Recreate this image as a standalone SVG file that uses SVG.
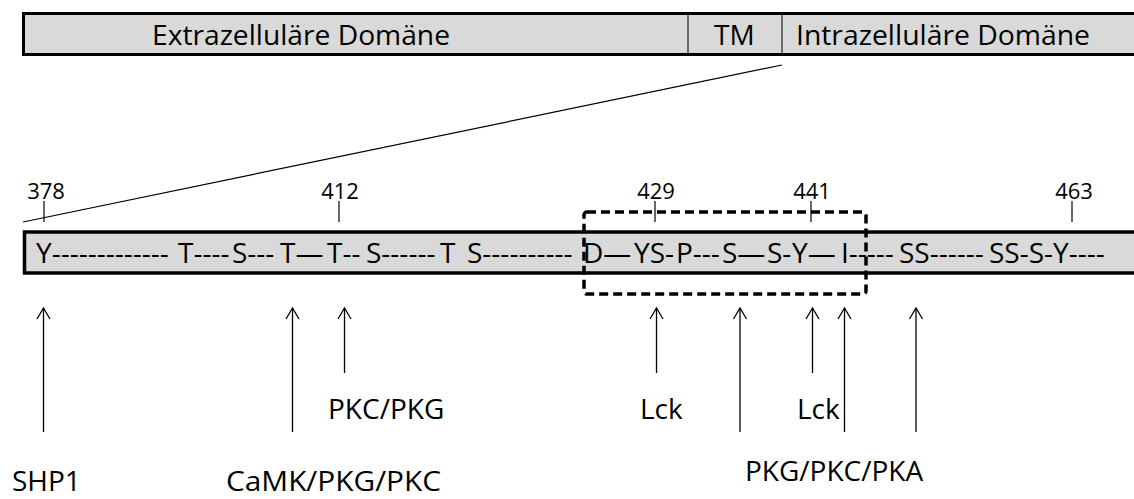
<svg xmlns="http://www.w3.org/2000/svg" width="1134" height="499" viewBox="0 0 1134 499">
<defs>
<style>
.bar{fill:#d9d9d9;stroke:#000;}
.t{font-family:"Open Sans","Liberation Sans",sans-serif;font-size:28px;fill:#000;}
.n{font-family:"Open Sans","Liberation Sans",sans-serif;font-size:22px;fill:#000;text-anchor:middle;}
.thin{stroke:#000;stroke-width:1.2;fill:none;}
.arrow{stroke:#000;stroke-width:1.3;fill:none;marker-end:url(#head);}
</style>
<marker id="head" viewBox="-13 -9 15 18" refX="0" refY="0" markerWidth="15" markerHeight="18" markerUnits="userSpaceOnUse" orient="auto">
<path d="M -11 -6.5 L 0 0 L -11 6.5" fill="none" stroke="#000" stroke-width="1.3"/>
</marker>
</defs>
<rect width="1134" height="499" fill="#fff"/>
<g id="domain-bar">
<rect class="bar" x="23.5" y="13.5" width="1130" height="41" stroke-width="3"/>
<line x1="688" y1="15" x2="688" y2="53" stroke="#222" stroke-width="1.2"/>
<line x1="782" y1="15" x2="782" y2="53" stroke="#222" stroke-width="1.2"/>
<text class="t" x="152" y="45" textLength="298" lengthAdjust="spacingAndGlyphs">Extrazelluläre Domäne</text>
<text class="t" x="714" y="45">TM</text>
<text class="t" x="796" y="45" textLength="294" lengthAdjust="spacingAndGlyphs">Intrazelluläre Domäne</text>
</g>
<g id="zoom-line">
<line class="thin" x1="23" y1="222" x2="782" y2="65"/>
</g>
<g id="positions">
<text class="n" x="46" y="199">378</text>
<line class="thin" x1="44" y1="201" x2="44" y2="222"/>
<text class="n" x="340" y="199">412</text>
<line class="thin" x1="339" y1="201" x2="339" y2="222"/>
<text class="n" x="656" y="199">429</text>
<line class="thin" x1="655" y1="201" x2="655" y2="222"/>
<text class="n" x="812" y="199">441</text>
<line class="thin" x1="811" y1="201" x2="811" y2="222"/>
<text class="n" x="1074" y="199">463</text>
<line class="thin" x1="1072" y1="201" x2="1072" y2="222"/>
</g>
<g id="sequence-bar">
<rect class="bar" x="24.5" y="232" width="1130" height="41" stroke-width="3.5"/>
<text class="t" y="263" xml:space="preserve"><tspan x="36">Y-------------</tspan><tspan x="178">T----</tspan><tspan x="232">S---</tspan><tspan x="280">T—</tspan><tspan x="327">T--</tspan><tspan x="366">S------</tspan><tspan x="440">T </tspan><tspan x="467">S----------</tspan><tspan x="583">D—</tspan><tspan x="634">YS-</tspan><tspan x="676">P---</tspan><tspan x="722">S—</tspan><tspan x="767">S-</tspan><tspan x="792">Y—</tspan><tspan x="841">I-----</tspan><tspan x="899">SS------</tspan><tspan x="989">SS-S-Y----</tspan></text>
</g>
<g id="motif-box">
<rect x="584" y="212" width="282" height="82" rx="3" fill="none" stroke="#000" stroke-width="3.5" stroke-dasharray="9 5"/>
</g>
<g id="connectors">
<line class="arrow" x1="43.5" y1="432" x2="43.5" y2="308"/>
<line class="arrow" x1="292.5" y1="432" x2="292.5" y2="308"/>
<line class="arrow" x1="344.5" y1="373" x2="344.5" y2="308"/>
<line class="arrow" x1="656.5" y1="373" x2="656.5" y2="308"/>
<line class="arrow" x1="740" y1="432" x2="740" y2="308"/>
<line class="arrow" x1="812.5" y1="373" x2="812.5" y2="308"/>
<line class="arrow" x1="844.5" y1="432" x2="844.5" y2="308"/>
<line class="arrow" x1="916" y1="432" x2="916" y2="308"/>
</g>
<g id="label-shp1"><text class="t" x="12" y="491">SHP1</text></g>
<g id="label-camk"><text class="t" x="226" y="491" textLength="215" lengthAdjust="spacingAndGlyphs">CaMK/PKG/PKC</text></g>
<g id="label-pkc-pkg"><text class="t" x="328" y="419">PKC/PKG</text></g>
<g id="label-lck1"><text class="t" x="640" y="419">Lck</text></g>
<g id="label-lck2"><text class="t" x="797" y="419">Lck</text></g>
<g id="label-pkg-pkc-pka"><text class="t" x="745" y="481">PKG/PKC/PKA</text></g>
</svg>
